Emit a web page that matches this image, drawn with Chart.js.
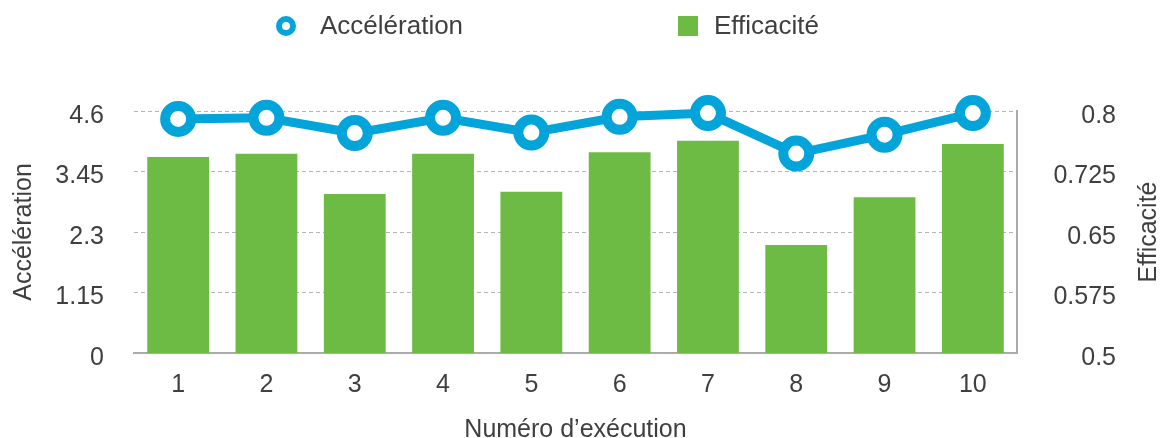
<!DOCTYPE html>
<html lang="fr">
<head>
  <meta charset="UTF-8">
  <title>Accélération et efficacité</title>
  <script src="https://cdn.jsdelivr.net/npm/chart.js"></script>
  <style>
    body { margin: 0; background: #fff; }
    #wrap { width: 1161px; height: 438px; }
  </style>
</head>
<body>
  <div id="wrap">
    <canvas id="chart" width="1161" height="438"></canvas>
  </div>
  <script>
    // data
    const runs = ['1', '2', '3', '4', '5', '6', '7', '8', '9', '10'];
    const acceleration = [4.45, 4.47, 4.18, 4.47, 4.19, 4.49, 4.56, 3.79, 4.15, 4.56];
    const efficacite = [0.743, 0.747, 0.697, 0.747, 0.700, 0.749, 0.763, 0.634, 0.693, 0.759];
    const accelTicks = [0, 1.15, 2.3, 3.45, 4.6];
    const effTicks = [0.5, 0.575, 0.65, 0.725, 0.8];

    const BLUE = '#02a4d9';
    const GREEN = '#6dbb45';
    const TEXT = '#3f3f3f';
    const FONT = '"Liberation Sans", Arial, Helvetica, sans-serif';

    Chart.defaults.font.family = FONT;
    Chart.defaults.color = TEXT;

    // legend + right axis title drawn by hand (title reads bottom-to-top)
    const extras = {
      id: 'extras',
      afterDraw(chart) {
        const ctx = chart.ctx;
        ctx.save();
        ctx.font = '26px ' + FONT;
        ctx.fillStyle = TEXT;
        ctx.textBaseline = 'middle';
        ctx.textAlign = 'left';

        // legend item 1: ring
        ctx.beginPath();
        ctx.arc(286, 26, 7, 0, Math.PI * 2);
        ctx.fillStyle = '#fff';
        ctx.fill();
        ctx.lineWidth = 6;
        ctx.strokeStyle = BLUE;
        ctx.stroke();
        ctx.fillStyle = TEXT;
        ctx.fillText(chart.data.datasets[0].label, 320, 27);

        // legend item 2: square
        ctx.fillStyle = GREEN;
        ctx.fillRect(678, 16, 20, 20);
        ctx.fillStyle = TEXT;
        ctx.fillText(chart.data.datasets[1].label, 714, 27);

        // right axis title
        const y2 = chart.scales.y2;
        ctx.translate(1149, (y2.top + y2.bottom) / 2);
        ctx.rotate(-Math.PI / 2);
        ctx.textAlign = 'center';
        ctx.font = '25px ' + FONT;
        ctx.fillText('Efficacité', 0, 0);
        ctx.restore();
      }
    };

    new Chart(document.getElementById('chart'), {
      type: 'bar',
      data: {
        labels: runs,
        datasets: [{
          type: 'line',
          label: 'Accélération',
          data: acceleration,
          yAxisID: 'y',
          order: 0,
          borderColor: BLUE,
          borderWidth: 9,
          pointRadius: 13,
          pointBorderWidth: 10,
          pointBackgroundColor: '#fff',
          pointBorderColor: BLUE,
          tension: 0,
          clip: false
        }, {
          label: 'Efficacité',
          data: efficacite,
          yAxisID: 'y2',
          order: 1,
          backgroundColor: GREEN,
          barPercentage: 0.7,
          categoryPercentage: 1.0
        }]
      },
      options: {
        responsive: false,
        animation: false,
        devicePixelRatio: 1,
        layout: { padding: { top: 111, left: 0, right: 45, bottom: 0 } },
        plugins: {
          legend: { display: false },
          tooltip: { enabled: false }
        },
        scales: {
          x: {
            grid: { display: false },
            border: { display: true, color: '#ababab', width: 2 },
            ticks: { font: { size: 25 }, color: TEXT, padding: 9 },
            title: {
              display: true,
              text: 'Numéro d’exécution',
              font: { size: 25, lineHeight: 1 },
              color: TEXT,
              padding: { top: 0, bottom: -5 }
            },
            afterFit(scale) { scale.height = 85; }
          },
          y: {
            position: 'left',
            min: 0,
            max: 4.6,
            afterBuildTicks(scale) { scale.ticks = accelTicks.map(v => ({ value: v })); },
            grid: {
              color: '#b5b5b5',
              lineWidth: 1,
              drawTicks: false
            },
            border: { display: false, dash: [4, 3] },
            ticks: {
              font: { size: 25 },
              color: TEXT,
              padding: 30,
              labelOffset: 5,
              callback: v => String(v)
            },
            title: {
              display: true,
              text: 'Accélération',
              font: { size: 25, lineHeight: 1 },
              color: TEXT,
              padding: { top: 12, bottom: 0 }
            },
            afterFit(scale) { scale.width = 134; }
          },
          y2: {
            position: 'right',
            min: 0.5,
            max: 0.8,
            afterBuildTicks(scale) { scale.ticks = effTicks.map(v => ({ value: v })); },
            grid: { display: false, drawTicks: false },
            border: { display: true, color: '#ababab', width: 2 },
            ticks: {
              font: { size: 25 },
              color: TEXT,
              padding: 30,
              labelOffset: 5,
              crossAlign: 'far',
              callback: v => String(v)
            },
            afterFit(scale) { scale.width = 99; }
          }
        }
      },
      plugins: [extras]
    });
  </script>
</body>
</html>
